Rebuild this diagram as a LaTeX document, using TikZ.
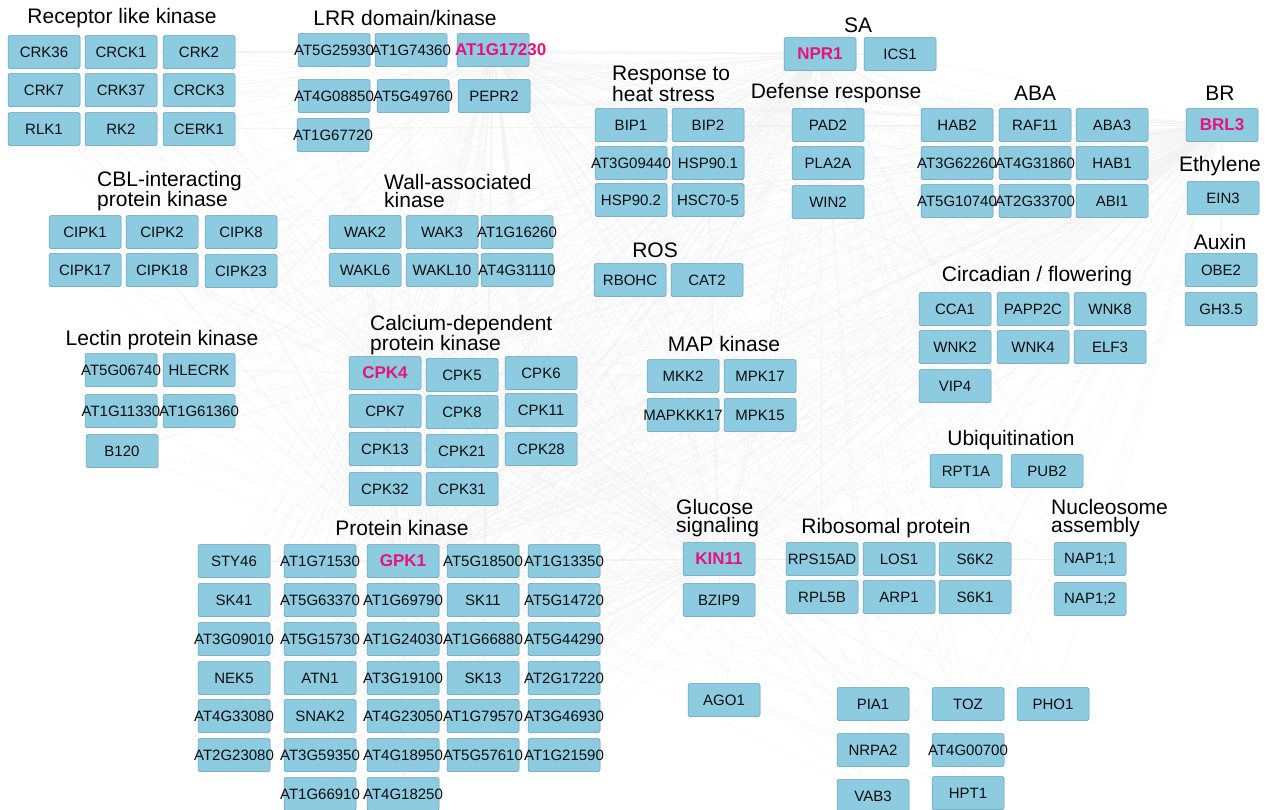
\documentclass[tikz,border=0pt]{standalone}
\usepackage{fontspec}
\setmainfont{Liberation Sans}
\usetikzlibrary{backgrounds}
\definecolor{genefill}{RGB}{141,203,225}
\definecolor{geneline}{RGB}{98,152,178}
\definecolor{hubpink}{RGB}{232,18,122}
\newcommand{\gn}[1]{\makebox[0pt]{#1}}
\tikzset{
  gene/.style={draw=geneline, fill=genefill, rounded corners=2pt, line width=0.5pt,
    minimum width=72pt, minimum height=33pt, inner sep=0pt, text=black!95,
    font=\fontsize{15}{15}\selectfont},
  hub/.style={gene, text=hubpink, font=\fontsize{17}{17}\selectfont\bfseries},
  group/.style={inner sep=0pt, font=\fontsize{21}{18.5}\selectfont, align=left},
  edge/.style={draw=black!6, line width=0.25pt}
}
\def\genelist{crk36,crck1,crk2,crk7,crk37,crck3,rlk1,rk2,cerk1,
  at5g25930,at1g74360,at4g08850,at5g49760,pepr2,at1g67720,ics1,
  bip1,bip2,at3g09440,hspa,hspb,hsc,pad2,pla2a,win2,
  hab2,raf11,aba3,at3g62260,at4g31860,hab1,at5g10740,at2g33700,abi1,ein3,obe2,gh35,
  cipk1,cipk2,cipk8,cipk17,cipk18,cipk23,wak2,wak3,at1g16260,wakl6,wakl10,at4g31110,
  rbohc,cat2,cca1,papp2c,wnk8,wnk2,wnk4,elf3,vip4,
  at5g06740,hlecrk,at1g11330,at1g61360,b120,
  cpk5,cpk6,cpk7,cpk8,cpk11,cpk13,cpk21,cpk28,cpk32,cpk31,
  mkk2,mpk17,mapkkk17,mpk15,rpt1a,pub2,
  sty46,at1g71530,at5g18500,at1g13350,sk41,at5g63370,at1g69790,sk11,at5g14720,
  at3g09010,at5g15730,at1g24030,at1g66880,at5g44290,nek5,atn1,at3g19100,sk13,at2g17220,
  at4g33080,snak2,at4g23050,at1g79570,at3g46930,at2g23080,at3g59350,at4g18950,at5g57610,at1g21590,
  at1g66910,at4g18250,bzip9,rps15ad,los1,s6k2,rpl5b,arp1,s6k1,napa,napb,
  ago1,pia1,toz,pho1,nrpa2,at4g00700,vab3,hpt1}

\begin{document}
\begin{tikzpicture}[x=1pt, y=-1pt]

\useasboundingbox (0,0) rectangle (1266,809);

% receptor like kinase
\node[group] (t-rlk) at (122,18) {Receptor like kinase};
\foreach \n/\t/\x/\y in {crk36/CRK36/44/52, crck1/CRCK1/121/52, crk2/CRK2/199/52,
  crk7/CRK7/44/90, crk37/CRK37/121/90, crck3/CRCK3/199/90,
  rlk1/RLK1/44/129, rk2/RK2/121/129, cerk1/CERK1/199/129}
  \node[gene] (\n) at (\x,\y) {\gn{\t}};

% LRR
\node[group] (t-lrr) at (405,18) {LRR domain/kinase};
\foreach \n/\t/\x/\y in {at5g25930/AT5G25930/334/50, at1g74360/AT1G74360/411/50,
  at4g08850/AT4G08850/334/96, at5g49760/AT5G49760/413/96, pepr2/PEPR2/494/96,
  at1g67720/AT1G67720/333/135}
  \node[gene] (\n) at (\x,\y) {\gn{\t}};
\node[hub] (at1g17230) at (493,50) {\makebox[0pt][l]{\hspace*{-38pt}AT1G17230}};

% SA
\node[group] (t-sa) at (858,25) {SA};
\node[hub] (npr1) at (820,54) {\gn{NPR1}};
\node[gene] (ics1) at (900,54) {\gn{ICS1}};

% heat stress
\node[group, anchor=west] (t-heat) at (612,84) {Response to\\heat stress};
\foreach \n/\t/\x/\y in {bip1/BIP1/631/125, bip2/BIP2/708/125,
  at3g09440/AT3G09440/631/163, hspa/HSP90.1/708/163,
  hspb/HSP90.2/631/200, hsc/HSC70-5/708/200}
  \node[gene] (\n) at (\x,\y) {\gn{\t}};

% defense
\node[group] (t-def) at (836,93) {Defense response};
\foreach \n/\t/\x/\y in {pad2/PAD2/828/125, pla2a/PLA2A/828/163, win2/WIN2/828/202}
  \node[gene] (\n) at (\x,\y) {\gn{\t}};

% ABA
\node[group] (t-aba) at (1035,93) {ABA};
\foreach \n/\t/\x/\y in {hab2/HAB2/957/125, raf11/RAF11/1035/125, aba3/ABA3/1112/125,
  at3g62260/AT3G62260/957/163, at4g31860/AT4G31860/1035/163, hab1/HAB1/1112/163,
  at5g10740/AT5G10740/957/201, at2g33700/AT2G33700/1035/201, abi1/ABI1/1112/201}
  \node[gene] (\n) at (\x,\y) {\gn{\t}};

% hormones
\node[group] (t-br) at (1220,93) {BR};
\node[hub] (brl3) at (1222,125) {\gn{BRL3}};
\node[group] (t-eth) at (1220,166) {Ethylene};
\node[gene] (ein3) at (1223,198) {\gn{EIN3}};
\node[group] (t-aux) at (1220,242) {Auxin};
\node[gene] (obe2) at (1221,270) {\gn{OBE2}};
\node[gene] (gh35) at (1221,309) {\gn{GH3.5}};

% CBL
\node[group, anchor=west] (t-cbl) at (97,191) {CBL-interacting\\protein kinase};
\foreach \n/\t/\x/\y in {cipk1/CIPK1/85/232, cipk2/CIPK2/162/232, cipk8/CIPK8/241/232,
  cipk17/CIPK17/85/270, cipk18/CIPK18/162/270, cipk23/CIPK23/241/271}
  \node[gene] (\n) at (\x,\y) {\gn{\t}};

% wall-associated
\node[group, anchor=west] (t-wak) at (384,191) {Wall-associated\\kinase};
\foreach \n/\t/\x/\y in {wak2/WAK2/365/232, wak3/WAK3/442/232, at1g16260/AT1G16260/517/232,
  wakl6/WAKL6/365/270, wakl10/WAKL10/442/270, at4g31110/AT4G31110/517/270}
  \node[gene] (\n) at (\x,\y) {\gn{\t}};

% ROS
\node[group] (t-ros) at (655,250) {ROS};
\node[gene] (rbohc) at (630,280) {\gn{RBOHC}};
\node[gene] (cat2) at (707,280) {\gn{CAT2}};

% circadian
\node[group] (t-circ) at (1037,276) {Circadian / flowering};
\foreach \n/\t/\x/\y in {cca1/CCA1/955/309, papp2c/PAPP2C/1033/309, wnk8/WNK8/1110/309,
  wnk2/WNK2/955/347, wnk4/WNK4/1033/347, elf3/ELF3/1110/347, vip4/VIP4/955/386}
  \node[gene] (\n) at (\x,\y) {\gn{\t}};

% lectin
\node[group] (t-lec) at (162,340) {Lectin protein kinase};
\foreach \n/\t/\x/\y in {at5g06740/AT5G06740/121/370, hlecrk/HLECRK/199/370,
  at1g11330/AT1G11330/121/411, at1g61360/AT1G61360/199/411, b120/B120/122/451}
  \node[gene] (\n) at (\x,\y) {\gn{\t}};

% calcium-dependent
\node[group, anchor=west] (t-cpk) at (370,335) {Calcium-dependent\\protein kinase};
\node[hub] (cpk4) at (385,373) {\gn{CPK4}};
\foreach \n/\t/\x/\y in {cpk5/CPK5/462/375, cpk6/CPK6/541/373,
  cpk7/CPK7/385/411, cpk8/CPK8/462/412, cpk11/CPK11/541/410,
  cpk13/CPK13/385/449, cpk21/CPK21/462/451, cpk28/CPK28/541/449,
  cpk32/CPK32/385/489, cpk31/CPK31/462/489}
  \node[gene] (\n) at (\x,\y) {\gn{\t}};

% MAP kinase
\node[group] (t-map) at (724,344) {MAP kinase};
\foreach \n/\t/\x/\y in {mkk2/MKK2/683/376, mpk17/MPK17/760/376,
  mapkkk17/MAPKKK17/683/415, mpk15/MPK15/760/415}
  \node[gene] (\n) at (\x,\y) {\gn{\t}};

% ubiquitination
\node[group] (t-ubi) at (1011,440) {Ubiquitination};
\node[gene] (rpt1a) at (966,471) {\gn{RPT1A}};
\node[gene] (pub2) at (1047,471) {\gn{PUB2}};

% protein kinase
\node[group] (t-pk) at (402,528) {Protein kinase};
\node[hub] (gpk1) at (403,561) {\gn{GPK1}};
\foreach \n/\t/\x/\y in {sty46/STY46/234/561, at1g71530/AT1G71530/320/561,
  at5g18500/AT5G18500/483/561, at1g13350/AT1G13350/564/561,
  sk41/SK41/234/600, at5g63370/AT5G63370/320/600, at1g69790/AT1G69790/403/600,
  sk11/SK11/483/600, at5g14720/AT5G14720/564/600,
  at3g09010/AT3G09010/234/639, at5g15730/AT5G15730/320/639, at1g24030/AT1G24030/403/639,
  at1g66880/AT1G66880/483/639, at5g44290/AT5G44290/564/639,
  nek5/NEK5/234/678, atn1/ATN1/320/678, at3g19100/AT3G19100/403/678,
  sk13/SK13/483/678, at2g17220/AT2G17220/564/678,
  at4g33080/AT4G33080/234/716, snak2/SNAK2/320/716, at4g23050/AT4G23050/403/716,
  at1g79570/AT1G79570/483/716, at3g46930/AT3G46930/564/716,
  at2g23080/AT2G23080/234/755, at3g59350/AT3G59350/320/755, at4g18950/AT4G18950/403/755,
  at5g57610/AT5G57610/483/755, at1g21590/AT1G21590/564/755,
  at1g66910/AT1G66910/320/794, at4g18250/AT4G18250/403/794}
  \node[gene] (\n) at (\x,\y) {\gn{\t}};

% glucose
\node[group, anchor=west] (t-glc) at (676,518) {Glucose\\signaling};
\node[hub] (kin11) at (719,559) {\gn{KIN11}};
\node[gene] (bzip9) at (719,600) {\gn{BZIP9}};

% ribosomal
\node[group] (t-rib) at (886,528) {Ribosomal protein};
\foreach \n/\t/\x/\y in {rps15ad/RPS15AD/822/559, los1/LOS1/899/559, s6k2/S6K2/975/559,
  rpl5b/RPL5B/822/597, arp1/ARP1/899/597, s6k1/S6K1/975/597}
  \node[gene] (\n) at (\x,\y) {\gn{\t}};

% nucleosome
\node[group, anchor=west] (t-nuc) at (1051,518) {Nucleosome\\assembly};
\node[gene] (napa) at (1090,559) {\gn{NAP1;1}};
\node[gene] (napb) at (1090,599) {\gn{NAP1;2}};

% others
\foreach \n/\t/\x/\y in {ago1/AGO1/724/700, pia1/PIA1/873/704, toz/TOZ/968/704,
  pho1/PHO1/1053/704, nrpa2/NRPA2/873/750, at4g00700/AT4G00700/968/750,
  vab3/VAB3/873/796, hpt1/HPT1/968/793}
  \node[gene] (\n) at (\x,\y) {\gn{\t}};

\begin{pgfonlayer}{background}
\fill[white] (0,0) rectangle (1266,809);
\foreach \h in {at1g17230,npr1,brl3,cpk4,gpk1,kin11}
  \foreach \n in \genelist
    \draw[edge] (\h) -- (\n);
\end{pgfonlayer}

\end{tikzpicture}
\end{document}
